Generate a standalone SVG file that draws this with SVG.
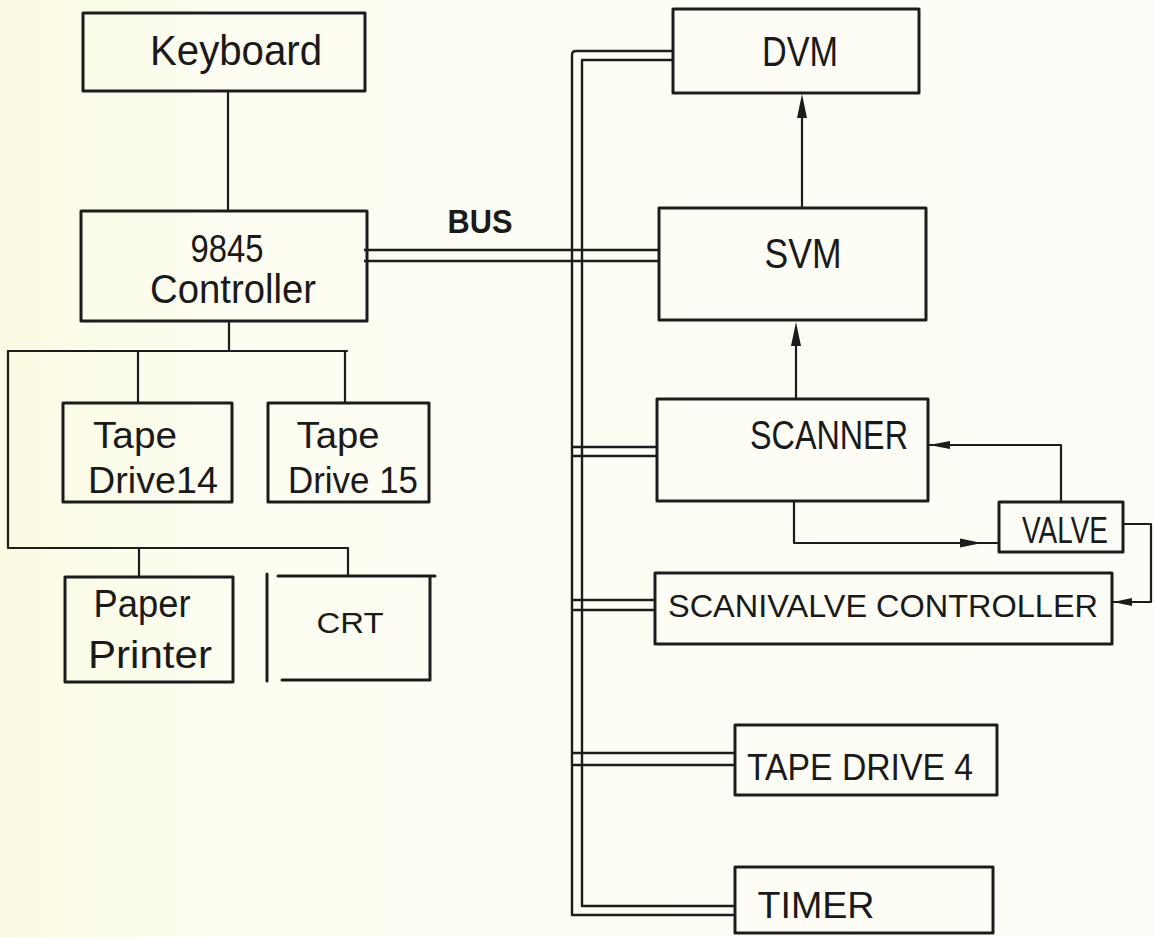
<svg xmlns="http://www.w3.org/2000/svg" width="1154" height="937" viewBox="0 0 1154 937">
<defs>
<linearGradient id="bg" x1="0" y1="0" x2="1" y2="0">
<stop offset="0" stop-color="#fbfbe3"/>
<stop offset="0.2" stop-color="#fdfdf2"/>
<stop offset="1" stop-color="#fdfdf8"/>
</linearGradient>
<style>
.box{fill:none;stroke:#1c1c1c;stroke-width:3;stroke-linejoin:round;stroke-linecap:round}
.ln{fill:none;stroke:#1c1c1c;stroke-width:2.2;stroke-linecap:round;stroke-linejoin:round}
.bus{fill:none;stroke:#1c1c1c;stroke-width:2.4;stroke-linejoin:round}
.ah{fill:#1c1c1c;stroke:none}
.t{font-family:"Liberation Sans",Arial,sans-serif;fill:#1a1a1a;text-anchor:middle}
</style>
</defs>
<rect x="0" y="0" width="1154" height="937" fill="url(#bg)"/>

<g id="connectors">
<!-- keyboard to controller -->
<path class="ln" d="M228,91 V211"/>
<!-- controller tree -->
<path class="ln" d="M229,321 V351"/>
<path class="ln" d="M8,351 H347"/>
<path class="ln" d="M138,351 V403"/>
<path class="ln" d="M345,351 V403"/>
<path class="ln" d="M8,351 V548 H348 V576"/>
<path class="ln" d="M139,548 V577"/>
<!-- bus verticals -->
<path class="bus" d="M673,51 H576 Q572,51 572,55 V915 H735"/>
<path class="bus" d="M673,60 H582 V906 H735"/>
<!-- bus branches -->
<path class="bus" d="M364,250 H659"/>
<path class="bus" d="M364,261 H659"/>
<path class="bus" d="M572,447 H657"/>
<path class="bus" d="M572,456 H657"/>
<path class="bus" d="M572,600 H655"/>
<path class="bus" d="M572,610 H655"/>
<path class="bus" d="M572,753 H735"/>
<path class="bus" d="M572,765 H735"/>
<!-- SVM to DVM -->
<path class="ln" d="M802,208 V110"/>
<polygon class="ah" points="802,94 797,118 807,118"/>
<!-- Scanner to SVM -->
<path class="ln" d="M796,399 V338"/>
<polygon class="ah" points="796,322 791,346 801,346"/>
<!-- Scanner to valve (bottom) -->
<path class="ln" d="M794,501 V543 H999"/>
<polygon class="ah" points="982,543 960,538.5 960,547.5"/>
<!-- Valve to scanner (top) -->
<path class="ln" d="M1061,502 V445 H928"/>
<polygon class="ah" points="929,445 950,441 950,449"/>
<!-- Valve to scanivalve controller -->
<path class="ln" d="M1123,524 H1151 V602 H1112"/>
<polygon class="ah" points="1113,602 1132,598 1132,606"/>
</g>

<g id="keyboard">
<rect class="box" x="83" y="13" width="282" height="78"/>
<text class="t" x="236" y="65" font-size="42" textLength="172" lengthAdjust="spacingAndGlyphs">Keyboard</text>
</g>

<g id="controller">
<rect class="box" x="81" y="211" width="286" height="110"/>
<text class="t" x="227" y="262" font-size="38" textLength="73" lengthAdjust="spacingAndGlyphs">9845</text>
<text class="t" x="233" y="303" font-size="40" textLength="166" lengthAdjust="spacingAndGlyphs">Controller</text>
</g>

<g id="bus-label">
<text class="t" x="480" y="233" font-size="33" font-weight="bold" textLength="65" lengthAdjust="spacingAndGlyphs">BUS</text>
</g>

<g id="tape14">
<rect class="box" x="63" y="403" width="169" height="99"/>
<text class="t" x="135" y="448" font-size="37" textLength="84" lengthAdjust="spacingAndGlyphs">Tape</text>
<text class="t" x="153" y="493" font-size="37" textLength="130" lengthAdjust="spacingAndGlyphs">Drive14</text>
</g>

<g id="tape15">
<rect class="box" x="268" y="403" width="161" height="99"/>
<text class="t" x="338" y="448" font-size="37" textLength="83" lengthAdjust="spacingAndGlyphs">Tape</text>
<text class="t" x="353" y="493" font-size="37" textLength="130" lengthAdjust="spacingAndGlyphs">Drive 15</text>
</g>

<g id="printer">
<rect class="box" x="65" y="577" width="168" height="105"/>
<text class="t" x="142" y="617" font-size="39" textLength="97" lengthAdjust="spacingAndGlyphs">Paper</text>
<text class="t" x="150" y="668" font-size="39" textLength="124" lengthAdjust="spacingAndGlyphs">Printer</text>
</g>

<g id="crt">
<path class="box" d="M267,574 V681 M278,576 H435 M430,576 V680 H282"/>
<text class="t" x="350" y="633" font-size="30" textLength="67" lengthAdjust="spacingAndGlyphs">CRT</text>
</g>

<g id="dvm">
<rect class="box" x="673" y="9" width="246" height="84"/>
<text class="t" x="800" y="66" font-size="42" textLength="76" lengthAdjust="spacingAndGlyphs">DVM</text>
</g>

<g id="svm">
<rect class="box" x="659" y="208" width="267" height="112"/>
<text class="t" x="803" y="268" font-size="42" textLength="77" lengthAdjust="spacingAndGlyphs">SVM</text>
</g>

<g id="scanner">
<rect class="box" x="657" y="399" width="271" height="102"/>
<text class="t" x="829" y="449" font-size="40" textLength="158" lengthAdjust="spacingAndGlyphs">SCANNER</text>
</g>

<g id="valve">
<rect class="box" x="999" y="502" width="124" height="50"/>
<text class="t" x="1065" y="543" font-size="36" textLength="86" lengthAdjust="spacingAndGlyphs">VALVE</text>
</g>

<g id="scanivalve-controller">
<rect class="box" x="655" y="573" width="457" height="71"/>
<text class="t" x="883" y="617" font-size="32" textLength="430" lengthAdjust="spacingAndGlyphs">SCANIVALVE CONTROLLER</text>
</g>

<g id="tape-drive-4">
<rect class="box" x="735" y="725" width="262" height="70"/>
<text class="t" x="860" y="780" font-size="36" textLength="226" lengthAdjust="spacingAndGlyphs">TAPE DRIVE 4</text>
</g>

<g id="timer">
<rect class="box" x="735" y="867" width="258" height="66"/>
<text class="t" x="816" y="918" font-size="37" textLength="117" lengthAdjust="spacingAndGlyphs">TIMER</text>
</g>
</svg>
